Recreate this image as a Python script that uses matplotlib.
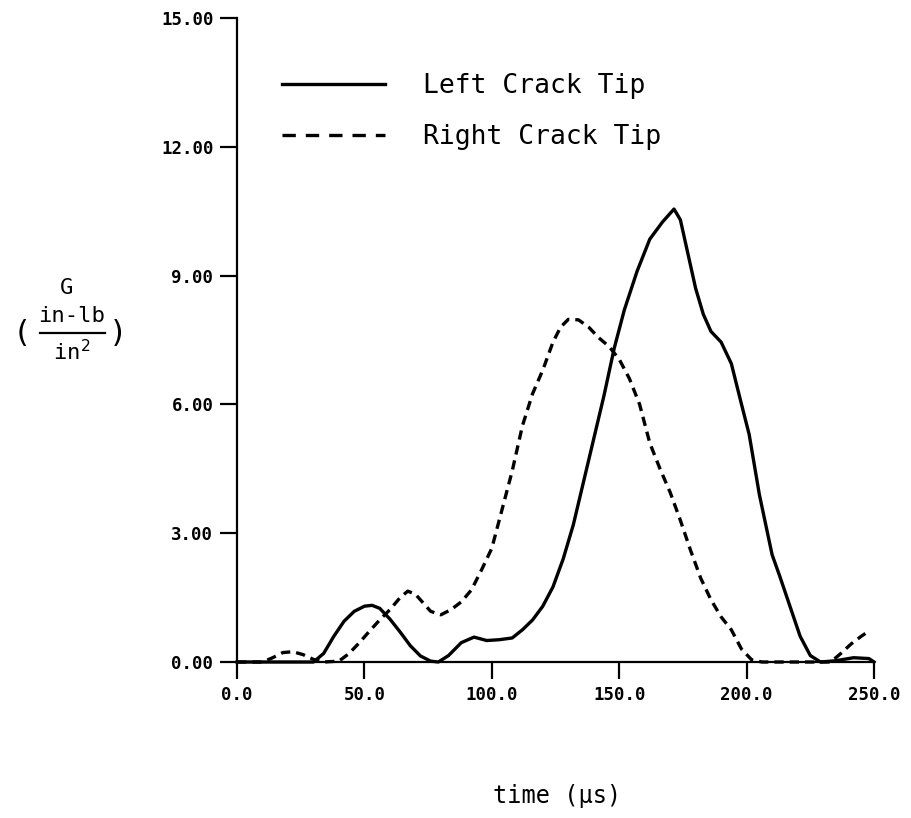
import matplotlib
matplotlib.use('Agg')
import matplotlib.pyplot as plt
from matplotlib.lines import Line2D

plt.rcParams['font.family'] = ['DejaVu Sans Mono', 'DejaVu Sans']

# time (us) and G values
left_t = [0, 30, 34, 38, 42, 46, 50, 53, 56, 60, 64, 68, 72, 76, 79, 83, 88, 93,
          98, 103, 108, 112, 116, 120, 124, 128, 132, 136, 140, 144, 148, 152,
          157, 162, 167, 171.5, 174, 177, 180, 183, 186, 190, 194, 198, 201,
          205, 210, 213, 217, 221, 225, 229, 235, 242, 248, 250]
left_g = [0, 0, 0.2, 0.6, 0.95, 1.18, 1.3, 1.32, 1.25, 1.0, 0.7, 0.38, 0.14,
          0.02, 0.0, 0.15, 0.45, 0.58, 0.5, 0.52, 0.56, 0.75, 0.98, 1.3, 1.75,
          2.4, 3.2, 4.2, 5.2, 6.2, 7.3, 8.2, 9.1, 9.85, 10.25, 10.55, 10.3, 9.5,
          8.7, 8.1, 7.7, 7.45, 6.95, 6.0, 5.3, 3.9, 2.5, 2.0, 1.3, 0.6, 0.15, 0,
          0.03, 0.1, 0.08, 0]

right_t = [0, 10, 14, 18, 22, 26, 30, 34, 40, 44, 48, 52, 56, 60, 64, 67, 70,
           73, 76, 80, 84, 88, 92, 96, 100, 104, 108, 112, 116, 120, 124, 127,
           130, 134, 138, 142, 146, 150, 154, 158, 162, 166, 170, 174, 178, 182,
           186, 190, 194, 198, 202, 206, 233, 237, 241, 245, 248]
right_g = [0, 0, 0.1, 0.22, 0.24, 0.17, 0.06, 0, 0.02, 0.2, 0.45, 0.72, 0.98,
           1.22, 1.5, 1.65, 1.58, 1.38, 1.18, 1.1, 1.22, 1.4, 1.68, 2.15, 2.65,
           3.55, 4.45, 5.5, 6.25, 6.8, 7.45, 7.8, 7.98, 7.97, 7.8, 7.55, 7.35,
           7.05, 6.6, 6.0, 5.1, 4.5, 3.95, 3.3, 2.6, 1.95, 1.45, 1.05, 0.75,
           0.3, 0.05, 0, 0, 0.2, 0.42, 0.6, 0.72]

xticks = [0, 50, 100, 150, 200, 250]
yticks = [0, 3, 6, 9, 12, 15]

fig = plt.figure(figsize=(9.11, 8.18), dpi=100)
ax = fig.add_axes([0.2602, 0.1907, 0.6992, 0.7873])

ax.plot(left_t, left_g, color='black', lw=2.4, clip_on=False,
        solid_joinstyle='round')
ax.plot(right_t, right_g, color='black', lw=2.4, linestyle=(0, (2.8, 1.8)),
        clip_on=False)

ax.set_xlim(0, 250)
ax.set_ylim(0, 15)
ax.set_xticks(xticks)
ax.set_xticklabels(['%.1f' % v for v in xticks])
ax.set_yticks(yticks)
ax.set_yticklabels(['%.2f' % v for v in yticks])
ax.tick_params(direction='out', length=12, width=1.6, pad=5,
               labelsize=12.5)
for lab in ax.get_xticklabels() + ax.get_yticklabels():
    lab.set_fontweight('bold')

for s in ['top', 'right']:
    ax.spines[s].set_visible(False)
for s in ['left', 'bottom']:
    ax.spines[s].set_linewidth(1.6)

handles = [Line2D([], [], color='black', lw=2.4),
           Line2D([], [], color='black', lw=2.4, linestyle=(0, (4, 3)))]
fig.legend(handles, ['Left Crack Tip', 'Right Crack Tip'],
           loc='upper left', bbox_to_anchor=(282 / 911, 1 - 73 / 818),
           frameon=False, fontsize=19, handlelength=3.9, handletextpad=1.45,
           labelspacing=0.95, borderpad=0, borderaxespad=0)

# y label: G over a stacked fraction
fig.text(67 / 911, 1 - 288 / 818, 'G', ha='center', va='center', fontsize=16)
fig.text(72 / 911, 1 - 316 / 818, 'in-lb', ha='center', va='center', fontsize=16)
fig.add_artist(Line2D([40 / 911, 105 / 911], [1 - 333 / 818, 1 - 333 / 818],
                      color='black', lw=1.6))
fig.text(72 / 911, 1 - 352 / 818, r'in$^2$', ha='center', va='center', fontsize=16)
fig.text(22 / 911, 1 - 333 / 818, '(', ha='center', va='center', fontsize=22)
fig.text(118 / 911, 1 - 333 / 818, ')', ha='center', va='center', fontsize=22)

fig.text(557 / 911, 1 - 796 / 818, 'time (\u03bcs)', ha='center', va='center',
         fontsize=17)

fig.savefig('out.png', dpi=100)
